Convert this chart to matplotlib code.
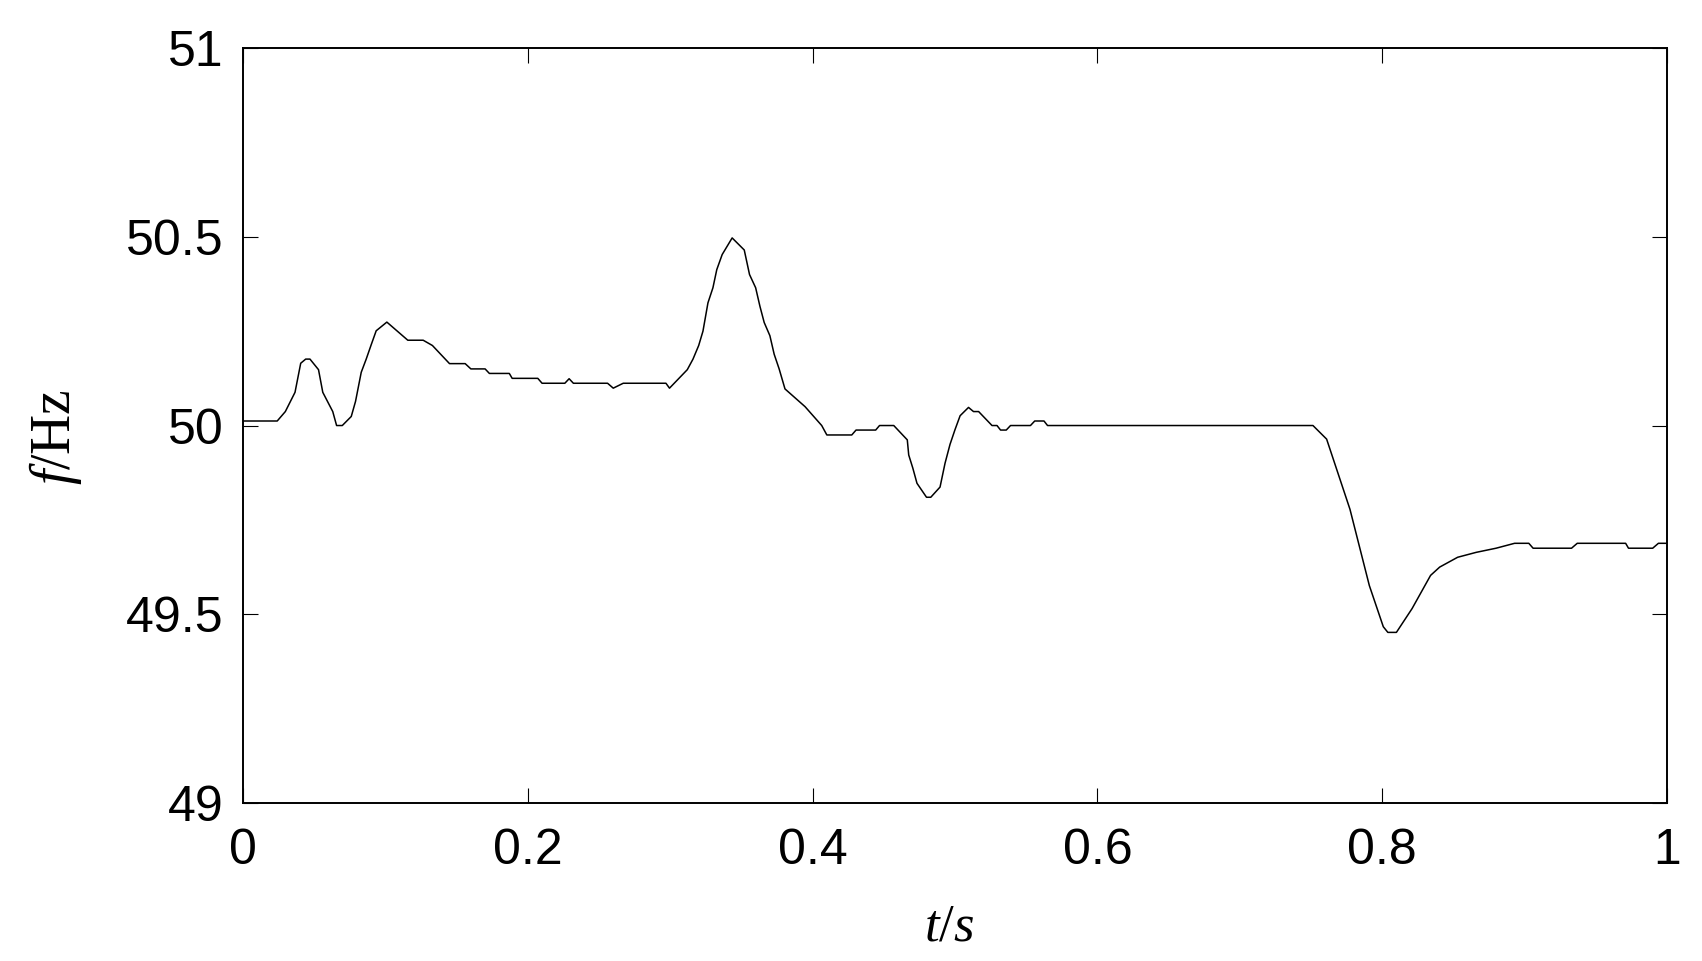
import matplotlib
matplotlib.use('Agg')
import matplotlib.pyplot as plt
from matplotlib.ticker import FormatStrFormatter

plt.rcParams['font.family'] = 'Liberation Sans'
plt.rcParams['mathtext.fontset'] = 'custom'
plt.rcParams['mathtext.it'] = 'Liberation Serif:italic'
plt.rcParams['mathtext.rm'] = 'Liberation Serif'

# time (s) and frequency (Hz)
t = [0, 0.024, 0.0297, 0.0365, 0.0405, 0.044, 0.047, 0.053, 0.056, 0.063,
     0.0657, 0.0697, 0.076, 0.079, 0.083, 0.0865, 0.09, 0.0935, 0.101, 0.1157,
     0.1265, 0.133, 0.145, 0.156, 0.160, 0.170, 0.173, 0.187, 0.189, 0.207,
     0.210, 0.226, 0.229, 0.232, 0.256, 0.260, 0.267, 0.297, 0.2995, 0.312,
     0.316, 0.320, 0.323, 0.3265, 0.330, 0.3327, 0.3365, 0.3435, 0.352, 0.3557,
     0.360, 0.363, 0.366, 0.370, 0.373, 0.3765, 0.3806, 0.3947, 0.4064, 0.410,
     0.4275, 0.4305, 0.4443, 0.447, 0.457, 0.4665, 0.4675, 0.4704, 0.4733, 0.480,
     0.483, 0.4895, 0.493, 0.4965, 0.500, 0.5036, 0.5095, 0.513, 0.5166, 0.526,
     0.5295, 0.532, 0.536, 0.539, 0.553, 0.556, 0.5625, 0.565, 0.7514, 0.761,
     0.7774, 0.791, 0.8008, 0.804, 0.810, 0.821, 0.834, 0.8404, 0.853, 0.866,
     0.880, 0.893, 0.903, 0.906, 0.933, 0.937, 0.971, 0.973, 0.990, 0.994, 1.0]
freq = [50.012, 50.012, 50.037, 50.088, 50.165, 50.176, 50.176, 50.148, 50.088, 50.037,
        50.0, 50.0, 50.024, 50.064, 50.141, 50.176, 50.214, 50.251, 50.274, 50.226,
        50.226, 50.212, 50.164, 50.164, 50.150, 50.150, 50.138, 50.138, 50.125, 50.125,
        50.112, 50.112, 50.124, 50.112, 50.112, 50.099, 50.112, 50.112, 50.099, 50.148,
        50.176, 50.212, 50.25, 50.325, 50.365, 50.413, 50.453, 50.497, 50.465, 50.40,
        50.365, 50.316, 50.273, 50.238, 50.189, 50.15, 50.097, 50.050, 50.0, 49.975,
        49.975, 49.988, 49.988, 50.0, 50.0, 49.962, 49.922, 49.887, 49.847, 49.81,
        49.81, 49.837, 49.90, 49.95, 49.989, 50.026, 50.048, 50.037, 50.037, 50.0,
        50.0, 49.988, 49.988, 50.0, 50.0, 50.012, 50.012, 50.0, 50.0, 49.964,
        49.778, 49.576, 49.467, 49.452, 49.452, 49.515, 49.603, 49.625, 49.651, 49.664,
        49.675, 49.688, 49.688, 49.675, 49.675, 49.688, 49.688, 49.675, 49.675, 49.688, 49.688]

xticks = [0, 0.2, 0.4, 0.6, 0.8, 1]
yticks = [49, 49.5, 50, 50.5, 51]

fig = plt.figure(figsize=(17.02, 9.61), dpi=100)
ax = fig.add_axes([0.1428, 0.1644, 0.8366, 0.7856])
ax.plot(t, freq, color='k', lw=1.1)

ax.set_xlim(0, 1)
ax.set_ylim(49, 51)
ax.set_xticks(xticks)
ax.set_yticks(yticks)
ax.xaxis.set_major_formatter(FormatStrFormatter('%g'))
ax.yaxis.set_major_formatter(FormatStrFormatter('%g'))
ax.tick_params(direction='in', length=11, width=0.8, labelsize=36,
               top=True, right=True)
ax.tick_params(axis='y', pad=14)
ax.tick_params(axis='x', pad=18)
for s in ax.spines.values():
    s.set_linewidth(1.4)

ax.set_xlabel(r'$t/s$', fontsize=38)
ax.set_ylabel(r'$f/\mathrm{Hz}$', fontsize=40)
ax.xaxis.set_label_coords(0.496, -0.13)
ax.yaxis.set_label_coords(-0.112, 0.485)

plt.savefig('out.png', dpi=100)
